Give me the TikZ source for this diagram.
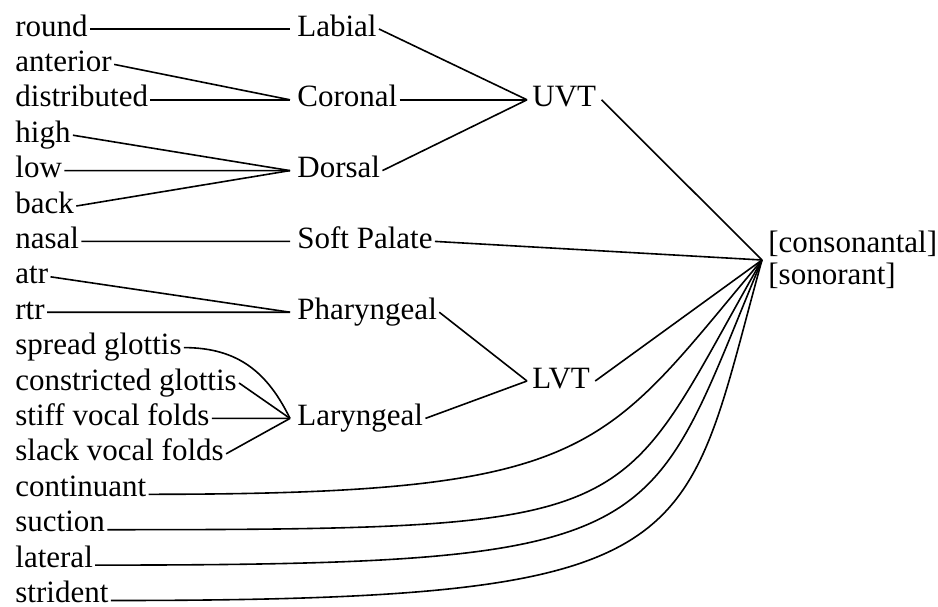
\documentclass[tikz,border=0pt]{standalone}
\usepackage{fontspec}
\setmainfont{Liberation Serif}
\begin{document}
\begin{tikzpicture}[x=0.5pt,y=-0.5pt,
  % node box centred on the middle of the x-height, so east/west sit on it
  lab/.style={font=\fontsize{15.5}{16}\selectfont, inner ysep=0pt,
              text height=7.6pt, text depth=0.5pt},
  leaf/.style={lab, anchor=west, inner xsep=1pt},
  catnode/.style={lab, anchor=west, inner xsep=1pt,
                  execute at begin node={\hspace*{2.5pt}}},
  tract/.style={lab, anchor=west, inner xsep=2.5pt},
  rootnode/.style={font=\fontsize{15.5}{16}\selectfont, anchor=west,
                   inner xsep=3pt, inner ysep=0pt, align=left},
  link/.style={line width=0.8pt}]
\useasboundingbox (0,0) rectangle (938,606);

% terminal features, one per row
\foreach \name/\txt [count=\i from 0] in {
  round/round, ant/anterior, dist/distributed, high/high, low/low,
  back/back, nasal/nasal, atr/atr, rtr/rtr, sg/spread glottis,
  cg/constricted glottis, stiff/stiff vocal folds, slack/slack vocal folds,
  cont/continuant, suct/suction, lat/lateral, strid/strident}
  \node[leaf] (\name) at (13, 29+35.4*\i) {\txt};

% class nodes
\node[catnode] (labial)  at (290, 29)    {Labial};
\node[catnode] (coronal) at (290, 99.8)  {Coronal};
\node[catnode] (dorsal)  at (290, 170.6) {Dorsal};
\node[catnode] (soft)    at (290, 241.4) {Soft Palate};
\node[catnode] (phar)    at (290, 312.2) {Pharyngeal};
\node[catnode] (lar)     at (290, 418.4) {Laryngeal};
\node[tract] (uvt)       at (527, 99.8)  {UVT};
\node[tract] (lvt)       at (527, 381)   {LVT};
\node[rootnode] (root)   at (762, 260)   {[consonantal]\\\relax[sonorant]};

% place features to their class nodes
\draw[link] (round.east) -- (labial.west);
\draw[link] (ant.east)   -- (coronal.west);
\draw[link] (dist.east)  -- (coronal.west);
\draw[link] (high.east)  -- (dorsal.west);
\draw[link] (low.east)   -- (dorsal.west);
\draw[link] (back.east)  -- (dorsal.west);
\draw[link] (nasal.east) -- (soft.west);
\draw[link] (atr.east)   -- (phar.west);
\draw[link] (rtr.east)   -- (phar.west);
\draw[link] (sg.east) .. controls +(55,0) and +(-22,-45) .. (lar.west);
\draw[link] (cg.east)    -- (lar.west);
\draw[link] (stiff.east) -- (lar.west);
\draw[link] (slack.east) -- (lar.west);

% class nodes to the tracts
\draw[link] (labial.east)  -- (uvt.west);
\draw[link] (coronal.east) -- (uvt.west);
\draw[link] (dorsal.east)  -- (uvt.west);
\draw[link] (phar.east)    -- (lvt.west);
\draw[link] (lar.east)     -- (lvt.west);

% everything to the root; the free features leave just above their baseline
\draw[link] (uvt.east)  -- (root.west);
\draw[link] (soft.east) -- (root.west);
\draw[link] (lvt.east)  -- (root.west);
\draw[link] ([yshift=1pt]cont.base east)  .. controls +(450,0) and +(-161,191) .. (root.west);
\draw[link] ([yshift=1pt]suct.base east)  .. controls +(550,0) and +(-150,262) .. (root.west);
\draw[link] ([yshift=1pt]lat.base east)   .. controls +(580,0) and +(-117,280) .. (root.west);
\draw[link] ([yshift=1pt]strid.base east) .. controls +(600,0) and +(-81,292) .. (root.west);
\end{tikzpicture}
\end{document}
